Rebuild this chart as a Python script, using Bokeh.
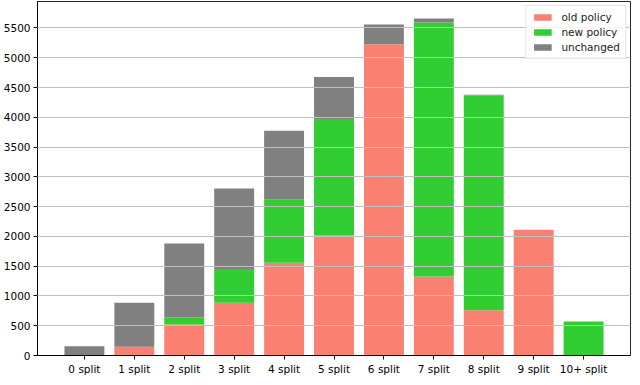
from bokeh.plotting import figure
from bokeh.models import Range1d, FixedTicker, Legend, LegendItem, ColumnDataSource
from bokeh.embed import file_html
from bokeh.resources import INLINE

categories = ["0 split", "1 split", "2 split", "3 split", "4 split", "5 split",
              "6 split", "7 split", "8 split", "9 split", "10+ split"]
old_policy = [0, 145, 520, 887, 1559, 2016, 5226, 1328, 758, 2113, 0]
new_policy = [0, 0, 117, 565, 1065, 1954, 0, 4263, 3608, 0, 570]
unchanged = [156, 742, 1245, 1354, 1150, 707, 334, 70, 15, 0, 0]
y_ticks = [0, 500, 1000, 1500, 2000, 2500, 3000, 3500, 4000, 4500, 5000, 5500]
series = ["old policy", "new policy", "unchanged"]
colors = ["#FA8072", "#32CD32", "#808080"]

xpos = list(range(len(categories)))
source = ColumnDataSource(dict(x=xpos, **{
    "old policy": old_policy, "new policy": new_policy, "unchanged": unchanged}))

FONT = "DejaVu Sans"

p = figure(x_range=Range1d(-0.94, len(categories) - 1 + 0.94),
           y_range=Range1d(0, 5945),
           width=632, height=377, output_backend="svg", toolbar_location=None,
           min_border_top=1, min_border_right=2, min_border_left=30, min_border_bottom=0)

renderers = p.vbar_stack(series, x="x", width=0.8, source=source,
                         color=colors, line_color=None)

p.outline_line_color = "black"
p.outline_line_width = 1
p.outline_line_alpha = 0.85
p.xgrid.grid_line_color = None
p.ygrid.grid_line_color = "#c0c0c0"
p.ygrid.grid_line_width = 1
p.ygrid.level = "guide"
p.yaxis.ticker = FixedTicker(ticks=y_ticks)
p.ygrid.ticker = FixedTicker(ticks=y_ticks)
p.xaxis.ticker = FixedTicker(ticks=xpos)
p.xaxis.major_label_overrides = {i: c for i, c in zip(xpos, categories)}

for ax in (p.xaxis[0], p.yaxis[0]):
    ax.major_label_text_font = FONT
    ax.major_label_text_font_size = "10.5px"
    ax.major_label_text_color = "black"
    ax.axis_line_color = "black"
    ax.major_tick_line_color = "black"
    ax.major_tick_out = 4
    ax.major_tick_in = 0
    ax.minor_tick_line_color = None
    ax.major_label_standoff = 3

legend = Legend(items=[LegendItem(label=s, renderers=[r]) for s, r in zip(series, renderers)],
                location="top_right")
legend.label_text_font = FONT
legend.label_text_font_size = "10.5px"
legend.label_text_color = "#222222"
legend.glyph_width = 22
legend.glyph_height = 8
legend.label_height = 12
legend.spacing = 3
legend.padding = 5
legend.margin = 4
legend.label_standoff = 8
legend.border_line_color = "#cccccc"
legend.background_fill_alpha = 0.8
p.add_layout(legend)

open("out.html", "w").write(file_html(p, INLINE))
